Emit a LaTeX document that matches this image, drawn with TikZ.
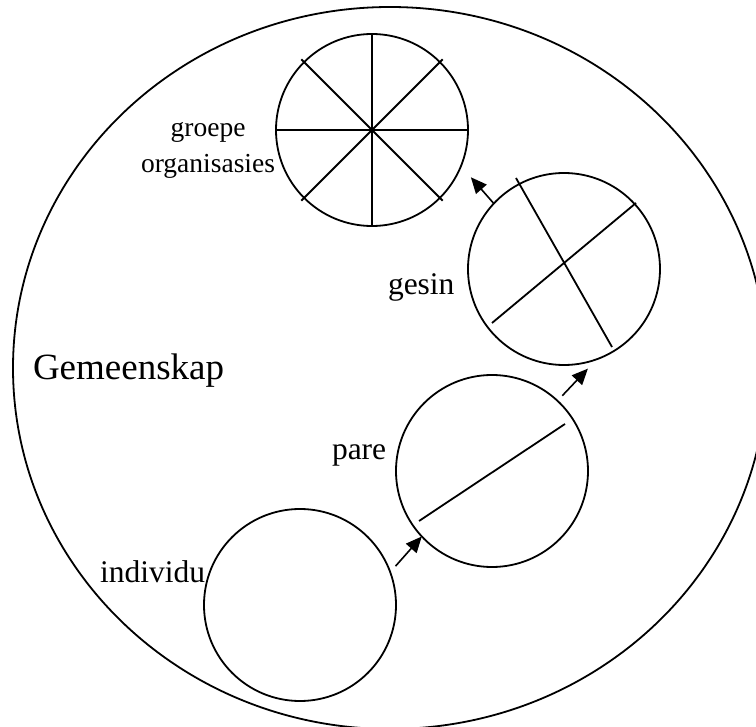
\documentclass[tikz,border=0pt]{standalone}
\usepackage{fontspec}
\setmainfont{Liberation Serif}
\usetikzlibrary{arrows.meta,positioning,calc}

\begin{document}
\begin{tikzpicture}[
  x=1pt, y=-1pt,
  line width=1.8pt,
  every node/.style={inner sep=0pt, outer sep=0pt},
  ring/.style={draw, circle, minimum size=192pt},
  lbl/.style={font=\fontsize{31.5}{36}\selectfont},
  arw/.style={-{Triangle[length=16pt,width=14pt]}, line width=1.6pt}
]
\useasboundingbox (0,0) rectangle (756,727);
\clip (0,0) rectangle (756,727);
% gemeenskap
\draw (390,368) ellipse [x radius=377, y radius=361];
\node[font=\fontsize{37}{44}\selectfont, anchor=base west] (gem) at (33,380) {Gemeenskap};
% die vier kringe
\node[ring] (indiv) at (300,605) {};
\node[ring] (pare) at (492,471) {};
\node[ring] (gesin) at (564,269) {};
\node[ring] (groep) at (372,130) {};
% verdelings
\draw ($(pare.center)+(-73,50)$) -- ($(pare.center)+(73,-47)$);
\draw ($(gesin.center)+(-48,-91)$) -- ($(gesin.center)+(48,78)$);
\draw ($(gesin.center)+(-72,54)$) -- ($(gesin.center)+(72,-66)$);
\draw (groep.north) -- (groep.south);
\draw (groep.west) -- (groep.east);
\foreach \a in {45,135}
  \draw ($(groep.center)+(\a:100)$) -- ($(groep.center)+(\a+180:100)$);
% byskrifte
\node[lbl, anchor=base west] (indivlbl) at (100,583) {individu};
\node[lbl, anchor=base west] (parelbl) at (332,460) {pare};
\node[lbl, anchor=base west] (gesinlbl) at (388,295) {gesin};
\node[font=\fontsize{27.5}{36}\selectfont, align=center, anchor=east] (groeplbl) at (275,150) {groepe\\organisasies};
% pyle
\draw[arw, shorten <=8pt] (indiv.20) -- (pare.223);
\draw[arw, shorten <=7pt, shorten >=13pt] (pare.47) -- (gesin.290);
\draw[arw, shorten >=15pt] (gesin.137) -- (groep.338);
\end{tikzpicture}
\end{document}
